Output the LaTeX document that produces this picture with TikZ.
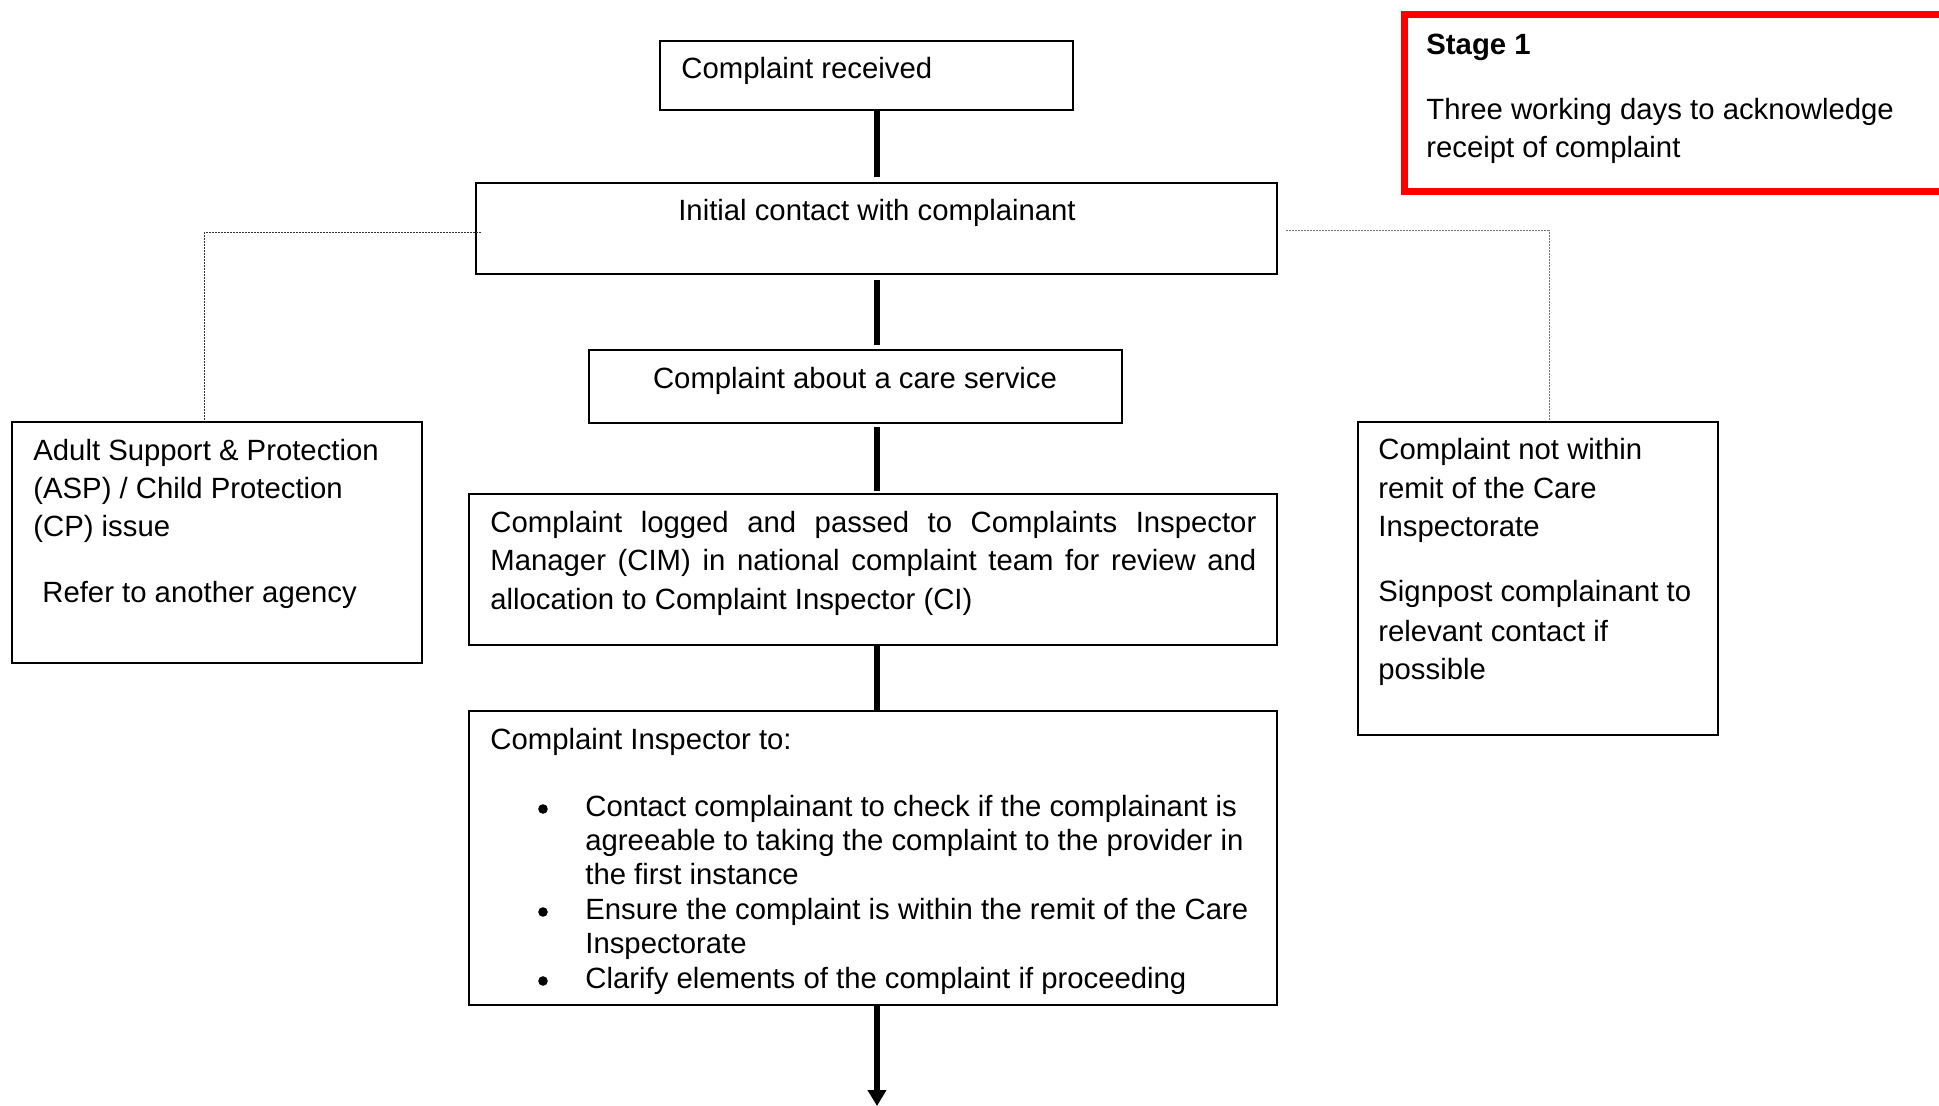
\documentclass[tikz,border=0pt]{standalone}
\usepackage{fontspec}
\setmainfont{Liberation Sans}
\usetikzlibrary{fit,arrows.meta}
\newcommand\mytxtsize{\fontsize{14.65pt}{19.25pt}\selectfont}
\begin{document}
\begin{tikzpicture}[x=0.5pt,y=-0.5pt,
  box/.style={draw,line width=1pt,inner sep=0pt},
  txt/.style={anchor=base west,inner sep=0pt,font=\mytxtsize},
  ctxt/.style={anchor=base,inner sep=0pt,font=\mytxtsize},
  bul/.style={circle,fill=black,inner sep=0pt,minimum size=4.8pt},
  conn/.style={line width=2.8pt},
  dotl/.style={line width=0.5pt,dash pattern=on 1pt off 0.5pt},
  redbox/.style={draw=red,line width=3.5pt}]
\useasboundingbox (0,0) rectangle (1939,1106);
\clip (0,0) rectangle (1939,1106);
\fill[white] (0,0) rectangle (1939,1106);
\coordinate (cx) at (877,0);
% boxes
\node[box,fit={(660,41)(1073,110)}] (rec) {};
\node[box,fit={(476,183)(1277,274)}] (init) {};
\node[box,fit={(589,350)(1122,423)}] (care) {};
\node[box,fit={(12,422)(422,663)}] (asp) {};
\node[box,fit={(469,494)(1277,645)}] (logged) {};
\node[box,fit={(469,711)(1277,1005)}] (insp) {};
\node[box,fit={(1358,422)(1718,735)}] (remit) {};
\node[redbox,fit={(1404,14.5)(1960,191.5)},inner sep=0pt] (stage) {};
% texts
\node[txt] (t1) at (681,79) {Complaint received};
\node[ctxt] (t2) at (877,221) {Initial contact with complainant};
\node[ctxt] (t3) at (855,389) {Complaint about a care service};
\node[txt] (a1) at (33,461) {Adult Support \& Protection};
\node[txt] (a2) at (33,499) {(ASP) / Child Protection};
\node[txt] (a3) at (33,537) {(CP) issue};
\node[txt] (a4) at (42,603) {Refer to another agency};
\node[txt] (l1) at (490,533) {\makebox[383pt][s]{Complaint logged and passed to Complaints Inspector}};
\node[txt] (l2) at (490,571) {\makebox[383pt][s]{Manager (CIM) in national complaint team for review and}};
\node[txt] (l3) at (490,610) {allocation to Complaint Inspector (CI)};
\node[txt] (i0) at (490,749) {Complaint Inspector to:};
\node[bul] (b1) at (543,809) {};
\node[bul] (b2) at (543,912) {};
\node[bul] (b3) at (543,981) {};
\node[txt] (i1) at (585,816) {Contact complainant to check if the complainant is};
\node[txt] (i2) at (585,850) {agreeable to taking the complaint to the provider in};
\node[txt] (i3) at (585,884) {the first instance};
\node[txt] (i4) at (585,919) {Ensure the complaint is within the remit of the Care};
\node[txt] (i5) at (585,953) {Inspectorate};
\node[txt] (i6) at (585,988) {Clarify elements of the complaint if proceeding};
\node[txt] (r1) at (1378,460) {Complaint not within};
\node[txt] (r2) at (1378,499) {remit of the Care};
\node[txt] (r3) at (1378,537) {Inspectorate};
\node[txt] (r4) at (1378,602) {Signpost complainant to};
\node[txt] (r5) at (1378,642) {relevant contact if};
\node[txt] (r6) at (1378,680) {possible};
\node[txt,font=\mytxtsize\bfseries] (s1) at (1426,55) {Stage 1};
\node[txt] (s2) at (1426,120) {Three working days to acknowledge};
\node[txt] (s3) at (1426,158) {receipt of complaint};
% connectors
\draw[conn,shorten >=2.5pt] (rec.south -| cx) -- (init.north -| cx);
\draw[conn,shorten <=2.5pt,shorten >=2pt] (init.south -| cx) -- (care.north -| cx);
\draw[conn,shorten <=1.5pt,shorten >=1pt] (care.south -| cx) -- (logged.north -| cx);
\draw[conn] (logged.south -| cx) -- (insp.north -| cx);
\coordinate (endp) at (877,1106);
\draw[conn,-{Triangle[width=9pt,length=8pt]}] (insp.south -| cx) -- (endp);
% dotted side links
\coordinate (lc) at (204,233);
\draw[dotl,black!80] ([xshift=3pt,yshift=-2.25pt]init.west) -- (lc) -- (lc |- asp.north);
\coordinate (rc) at (1549,231);
\draw[dotl,black!55] ([xshift=4pt,yshift=-1.25pt]init.east) -- (rc) -- (rc |- remit.north);
\end{tikzpicture}
\end{document}
